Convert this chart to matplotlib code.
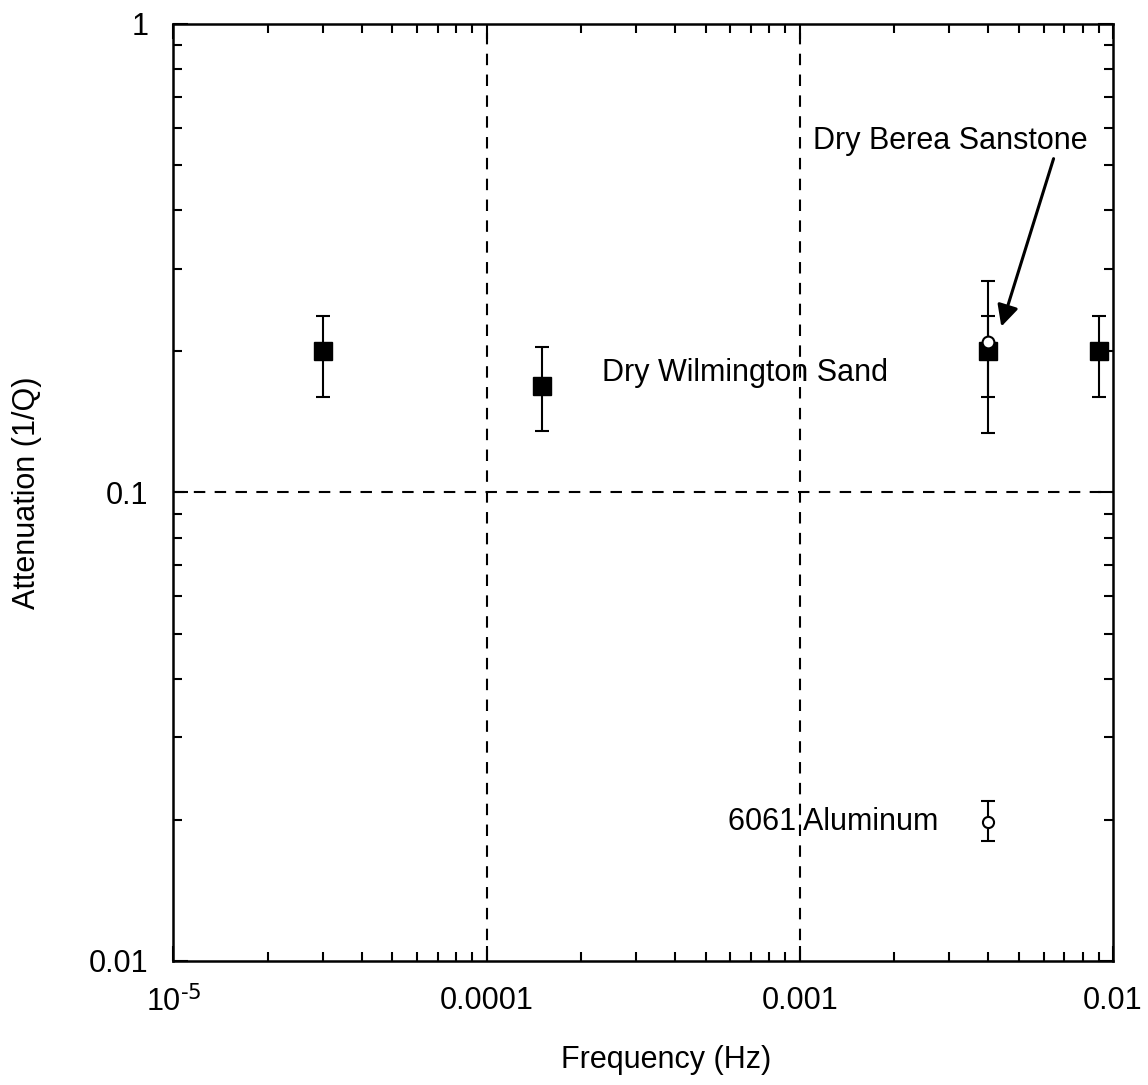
import numpy as np
import matplotlib
matplotlib.use("Agg")
import matplotlib.pyplot as plt
from matplotlib.ticker import FixedLocator, FixedFormatter, LogLocator, NullFormatter

plt.rcParams['font.family'] = ['Liberation Sans', 'DejaVu Sans']
plt.rcParams['mathtext.default'] = 'regular'

# dry Wilmington sand (filled squares)
sand_freq = [3e-5, 1.5e-4, 4e-3, 9e-3]
sand_q = [0.2, 0.169, 0.2, 0.2]
sand_lo = [0.16, 0.1355, 0.16, 0.16]
sand_hi = [0.238, 0.204, 0.238, 0.238]

# dry Berea sandstone (open circle)
berea_freq = [4e-3]
berea_q = [0.21]
berea_lo = [0.134]
berea_hi = [0.283]

# 6061 aluminum (open circle)
alu_freq = [4e-3]
alu_q = [0.0198]
alu_lo = [0.018]
alu_hi = [0.022]

xticks = [1e-5, 1e-4, 1e-3, 1e-2]
xtick_labels = ['10$^{\\text{-5}}$', '0.0001', '0.001', '0.01']
yticks = [0.01, 0.1, 1]
ytick_labels = ['0.01', '0.1', '1']

fig = plt.figure(figsize=(11.48, 10.85), dpi=100)
ax = fig.add_axes([0.1511, 0.1143, 0.8184, 0.8636])
ax.set_xscale('log')
ax.set_yscale('log')
ax.set_xlim(1e-5, 1e-2)
ax.set_ylim(0.01, 1)

# dashed grid at the inner decades
for x in xticks[1:-1]:
    ax.axvline(x, color='black', lw=1.5, ls=(0, (5.5, 4.5)), zorder=1)
for y in yticks[1:-1]:
    ax.axhline(y, color='black', lw=1.5, ls=(0, (5.5, 4.5)), zorder=1)

def errs(v, lo, hi):
    v = np.array(v)
    return [v - np.array(lo), np.array(hi) - v]

ax.errorbar(berea_freq, berea_q, yerr=errs(berea_q, berea_lo, berea_hi),
            fmt='none', ecolor='black', elinewidth=1.5, capsize=4.7, capthick=1.5, zorder=3)
ax.errorbar(sand_freq, sand_q, yerr=errs(sand_q, sand_lo, sand_hi),
            fmt='s', color='black', ms=13.5, elinewidth=1.5, capsize=4.7, capthick=1.5, zorder=4)
ax.plot(berea_freq, berea_q, 'o', mfc='white', mec='black', mew=1.5, ms=8.5, zorder=5)
ax.errorbar(alu_freq, alu_q, yerr=errs(alu_q, alu_lo, alu_hi),
            fmt='o', mfc='white', mec='black', mew=1.5, ms=8, color='black',
            elinewidth=1.5, capsize=4.7, capthick=1.5, zorder=4)

ax.text(2.33e-4, 0.18, 'Dry Wilmington Sand', fontsize=22, ha='left', va='center')
ax.text(5.9e-4, 0.0198, '6061 Aluminum', fontsize=22, ha='left', va='center')
ax.annotate('Dry Berea Sanstone', xy=(4.4e-3, 0.226), xytext=(1.1e-3, 0.563),
            fontsize=22, ha='left', va='center',
            arrowprops=dict(arrowstyle='-|>', color='black', lw=2.2,
                            mutation_scale=32, shrinkA=0, shrinkB=0,
                            relpos=(0.88, 0.0)))

ax.xaxis.set_major_locator(FixedLocator(xticks))
ax.xaxis.set_major_formatter(FixedFormatter(xtick_labels))
ax.yaxis.set_major_locator(FixedLocator(yticks))
ax.yaxis.set_major_formatter(FixedFormatter(ytick_labels))
ax.xaxis.set_minor_locator(LogLocator(base=10, subs=np.arange(2, 10)))
ax.yaxis.set_minor_locator(LogLocator(base=10, subs=np.arange(2, 10)))
ax.xaxis.set_minor_formatter(NullFormatter())
ax.yaxis.set_minor_formatter(NullFormatter())

ax.tick_params(which='both', direction='in', top=True, right=True, width=1.5, labelsize=22)
ax.tick_params(which='major', length=11, pad=18)
ax.tick_params(which='minor', length=6.5)
for s in ax.spines.values():
    s.set_linewidth(1.8)

ax.set_xlabel('Frequency (Hz)', fontsize=22)
ax.set_ylabel('Attenuation (1/Q)', fontsize=22)
ax.xaxis.set_label_coords(0.524, -0.09)
ax.yaxis.set_label_coords(-0.14, 0.5)

fig.savefig('out.png', dpi=100)
